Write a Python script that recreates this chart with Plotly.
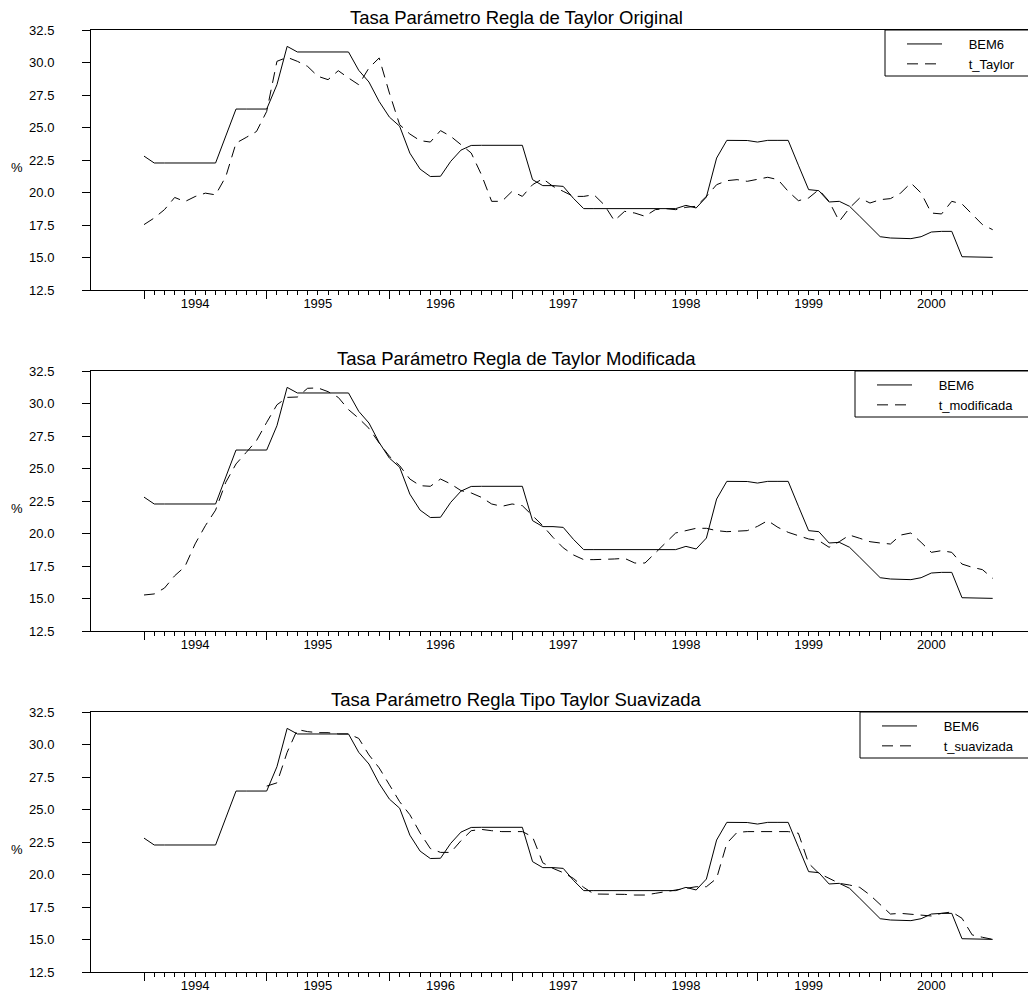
import plotly.graph_objects as go

# ---------------- data (monthly, Jan 1994 .. Dec 2000) ----------------
months = list(range(84))                      # month index, 0 = Jan 1994
years = ["1994", "1995", "1996", "1997", "1998", "1999", "2000"]
y_ticks = [12.5, 15.0, 17.5, 20.0, 22.5, 25.0, 27.5, 30.0, 32.5]

bem6 = [22.8, 22.27, 22.27, 22.27, 22.27, 22.27, 22.27, 22.27, 24.35, 26.42, 26.42, 26.42,
        26.42, 28.29, 31.24, 30.81, 30.81, 30.81, 30.81, 30.81, 30.81, 29.4, 28.5, 27.0,
        25.8, 25.1, 23.03, 21.8, 21.23, 21.25, 22.4, 23.26, 23.62, 23.63, 23.63, 23.63,
        23.63, 23.63, 20.99, 20.53, 20.53, 20.47, 19.55, 18.76, 18.76, 18.76, 18.76, 18.76,
        18.76, 18.76, 18.76, 18.76, 18.76, 19.01, 18.81, 19.65, 22.65, 24.01, 24.01, 24.0,
        23.88, 24.01, 24.01, 24.01, 22.1, 20.22, 20.14, 19.27, 19.32, 18.94, 18.17, 17.37,
        16.6, 16.5, 16.45, 16.45, 16.6, 16.96, 17.01, 17.01, 15.06, 15.04, 15.01, 15.01]

t_taylor = [17.53, 18.04, 18.68, 19.62, 19.3, 19.69, 19.95, 19.82, 21.22, 23.8, 24.24, 24.69,
            26.24, 30.09, 30.4, 30.09, 29.7, 28.94, 28.68, 29.37, 28.81, 28.29, 29.58, 30.35,
            27.65, 25.22, 24.5, 23.99, 23.88, 24.76, 24.32, 23.68, 23.04, 21.37, 19.32, 19.32,
            20.09, 19.7, 20.6, 21.06, 20.47, 20.09, 19.7, 19.7, 19.83, 19.06, 17.83, 18.55,
            18.42, 18.17, 18.68, 18.76, 18.68, 18.86, 18.94, 19.7, 20.6, 20.91, 20.99, 20.86,
            20.99, 21.17, 20.99, 20.09, 19.37, 19.58, 20.22, 19.32, 17.78, 18.81, 19.58, 19.19,
            19.45, 19.53, 19.96, 20.73, 19.96, 18.42, 18.35, 19.32, 19.12, 18.29, 17.53, 17.14]

t_modificada = [15.27, 15.35, 15.8, 16.75, 17.45, 19.2, 20.6, 21.8, 23.94, 25.35, 26.24, 27.14,
                28.55, 29.9, 30.47, 30.5, 31.17, 31.2, 30.91, 30.47, 29.53, 28.86, 28.09, 26.96,
                25.94, 25.22, 24.19, 23.68, 23.63, 24.19, 23.81, 23.3, 23.12, 22.78, 22.27, 22.09,
                22.27, 22.14, 21.37, 20.6, 19.7, 18.9, 18.35, 17.99, 17.99, 17.99, 18.04, 18.09,
                17.73, 17.73, 18.5, 19.27, 20.04, 20.22, 20.4, 20.4, 20.22, 20.14, 20.17, 20.22,
                20.55, 20.99, 20.47, 20.09, 19.83, 19.58, 19.45, 18.94, 19.37, 19.88, 19.63, 19.37,
                19.27, 19.19, 19.88, 20.04, 19.32, 18.55, 18.68, 18.55, 17.65, 17.4, 17.22, 16.55]

t_suavizada = [None, None, None, None, None, None, None, None, None, None, None, None,
               26.8, 27.05, 29.4, 31.15, 30.99, 30.91, 30.91, 30.81, 30.81, 30.47, 29.2, 28.2,
               26.9, 25.6, 24.6, 23.2, 22.0, 21.7, 21.7, 22.6, 23.37, 23.47, 23.37, 23.3,
               23.3, 23.3, 22.9, 20.9, 20.47, 20.14, 19.7, 19.01, 18.5, 18.5, 18.5, 18.47,
               18.42, 18.42, 18.55, 18.68, 18.81, 18.94, 19.06, 19.06, 19.7, 22.4, 23.24, 23.3,
               23.3, 23.32, 23.32, 23.3, 23.17, 20.86, 20.09, 19.7, 19.32, 19.19, 19.01, 18.42,
               17.65, 16.96, 17.01, 16.96, 16.86, 16.81, 17.01, 17.12, 16.63, 15.35, 15.17, 15.01]

titles = ["Tasa Parámetro Regla de Taylor Original",
          "Tasa Parámetro Regla de Taylor Modificada",
          "Tasa Parámetro Regla Tipo Taylor Suavizada"]
series_names = ["t_Taylor", "t_modificada", "t_suavizada"]
series_values = [t_taylor, t_modificada, t_suavizada]

# ---------------- layout helpers (page has an 8px body margin) ----------------
W, H = 1028, 989
ML, MR, MT, MB = 83, 0, 22, 25
PH = H - MT - MB
panels_px = [(22, 282), (363, 623), (704, 964)]      # top / bottom of each frame
legend_left_px = [877, 847, 852]
LEG_H = 46
FONT = "Liberation Sans, Arial, sans-serif"

def fy(ypix):
    return (H - MB - ypix) / PH

def fx(xpix):
    return (xpix - ML) / (W - ML - MR)

px_per_month = 10.225
x0 = -(136 - ML) / px_per_month
x_range = [x0, x0 + (W - ML - MR) / px_per_month]
major_ticks = [m for m in months if m % 12 == 0]
label_pos = [12 * i + 5 for i in range(len(years))]

NB = "\u00a0"
fig = go.Figure()
layout = dict(
    width=W, height=H,
    margin=dict(l=ML, r=MR, t=MT, b=MB, autoexpand=False),
    paper_bgcolor="white", plot_bgcolor="white",
    font=dict(family=FONT, size=13, color="black"),
    showlegend=True,
    annotations=[], shapes=[],
)

for i in range(3):
    n = i + 1
    xa = "x" if n == 1 else f"x{n}"
    xo = f"x{n + 3}"
    ya = "y" if n == 1 else f"y{n}"
    lg = "legend" if n == 1 else f"legend{n}"
    top, bot = panels_px[i]

    fig.add_trace(go.Scatter(x=months, y=bem6, mode="lines", name=NB * 6 + "BEM6",
                             line=dict(color="black", width=1), xaxis=xa, yaxis=ya,
                             legend=lg, connectgaps=False, hoverinfo="x+y"))
    fig.add_trace(go.Scatter(x=months, y=series_values[i], mode="lines",
                             name=NB * 6 + series_names[i],
                             line=dict(color="black", width=1, dash="11px,7px"),
                             xaxis=xo, yaxis=ya, legend=lg, connectgaps=False,
                             hoverinfo="x+y"))

    # main axis: frame, long yearly ticks and short monthly ticks
    layout[f"xaxis{n}" if n > 1 else "xaxis"] = dict(
        domain=[0, 1], anchor=ya, range=x_range,
        tickmode="array", tickvals=major_ticks, ticks="outside", ticklen=8,
        tickwidth=1, tickcolor="black", showticklabels=False,
        showline=True, linecolor="black", linewidth=1, mirror=True,
        showgrid=False, zeroline=False,
        minor=dict(tickmode="array", tickvals=months, ticks="outside", ticklen=4,
                   tickwidth=1, tickcolor="black", showgrid=False),
    )
    # overlay axis: year labels between the yearly ticks
    layout[f"xaxis{n + 3}"] = dict(
        overlaying=xa, anchor=ya, side="bottom", range=x_range,
        tickmode="array", tickvals=label_pos, ticktext=years, ticks="",
        showline=False, showgrid=False, zeroline=False,
        tickfont=dict(size=13), ticklabelstandoff=4,
    )
    layout[f"yaxis{n}" if n > 1 else "yaxis"] = dict(
        domain=[fy(bot), fy(top)], anchor=xa, range=[12.5, 32.5],
        tickmode="array", tickvals=y_ticks, ticktext=[f"{v:.1f}" for v in y_ticks],
        ticks="outside", ticklen=8, tickwidth=1, tickcolor="black",
        showline=True, linecolor="black", linewidth=1, mirror=False,
        showgrid=False, zeroline=False, tickfont=dict(size=13), ticklabelstandoff=25,
    )
    layout[lg] = dict(
        x=fx(legend_left_px[i]), xanchor="left", y=fy(top - 1), yanchor="top",
        bgcolor="rgba(0,0,0,0)", borderwidth=0,
        font=dict(size=13), indentation=17, itemwidth=35, traceorder="normal",
    )
    # legend frame running off the right edge, as in the original
    layout["shapes"].append(dict(
        type="rect", xref="paper", yref="paper",
        x0=fx(legend_left_px[i]), x1=1.03, y0=fy(top + LEG_H), y1=fy(top),
        line=dict(color="black", width=1), fillcolor="rgba(0,0,0,0)", layer="above",
    ))
    layout["annotations"].append(dict(
        text=titles[i], xref="paper", x=fx(508), xanchor="center",
        yref=f"{ya} domain", y=1, yanchor="bottom", yshift=0, showarrow=False,
        font=dict(size=18.5),
    ))
    layout["annotations"].append(dict(
        text="%", xref="paper", x=fx(9), xanchor="center",
        yref=f"{ya} domain", y=(260 - 137) / 260,
        yanchor="middle", showarrow=False, font=dict(size=13),
    ))

fig.update_layout(**layout)
fig.write_html("out.html")
